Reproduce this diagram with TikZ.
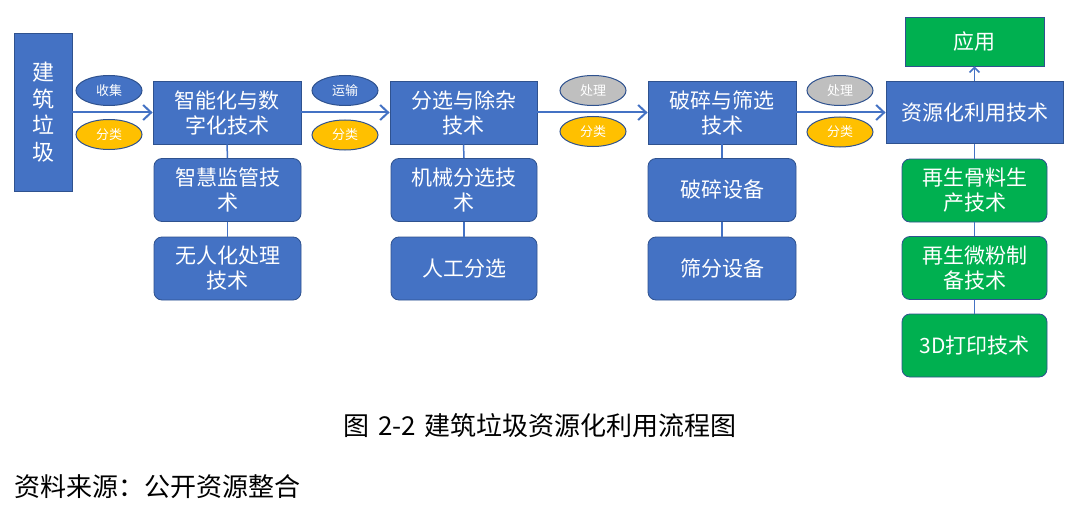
\documentclass[tikz,border=0pt]{standalone}
\usepackage{fontspec}
\setmainfont{Noto Sans CJK SC}
\usetikzlibrary{arrows.meta,shapes.geometric}
\definecolor{cblue}{HTML}{4472C4}
\definecolor{cborder}{HTML}{2F528F}
\definecolor{cgreen}{HTML}{00B050}
\definecolor{cyellow}{HTML}{FFC000}
\definecolor{cgrey}{HTML}{BFBFBF}
\begin{document}
\begin{tikzpicture}[x=1pt,y=-1pt,
  box/.style={draw=cborder,line width=0.8pt,fill=cblue,text=white,align=center,
    inner sep=0pt,font=\fontsize{21}{25}\selectfont},
  mainbox/.style={box,minimum width=148pt,minimum height=63pt},
  subbox/.style={box,rounded corners=8pt,minimum width=147pt,minimum height=63pt},
  greenbox/.style={subbox,fill=cgreen,minimum width=145pt},
  oval/.style={ellipse,draw=cborder,line width=1pt,text=white,inner sep=0pt,
    minimum width=66pt,minimum height=30pt,font=\fontsize{13}{15}\selectfont},
  blueoval/.style={oval,fill=cblue},
  yellowoval/.style={oval,fill=cyellow},
  greyoval/.style={oval,fill=cgrey},
  flow/.style={draw=cblue,line width=2pt,-{Straight Barb[length=8pt,width=15pt]}},
  link/.style={draw=cblue,line width=1.5pt},
  caption/.style={font=\fontsize{26}{30}\selectfont,inner sep=0pt}
]
\useasboundingbox[fill=white] (0,0) rectangle (1080,519);

\node[box,minimum width=58pt,minimum height=158pt,font=\fontsize{22}{26.5}\selectfont] (g) at (43,112) {建\\筑\\垃\\圾};

\node[mainbox] (b1) at (227,112.5) {智能化与数\\字化技术};
\node[subbox] (s11) at (227.5,190) {智慧监管技\\术};
\node[subbox] (s12) at (227.5,268.5) {无人化处理\\技术};

\node[mainbox,minimum width=147pt] (b2) at (463.5,112.5) {分选与除杂\\技术};
\node[subbox,minimum width=146pt] (s21) at (464,190) {机械分选技\\术};
\node[subbox,minimum width=146pt] (s22) at (464,268.5) {人工分选};

\node[mainbox] (b3) at (722,112.5) {破碎与筛选\\技术};
\node[subbox,minimum width=148pt] (s31) at (722,190) {破碎设备};
\node[subbox,minimum width=148pt] (s32) at (722,268.5) {筛分设备};

\node[mainbox,minimum width=177pt,minimum height=62pt] (b4) at (974.5,112.5) {资源化利用技术};
\node[box,fill=cgreen,minimum width=139pt,minimum height=49pt] (app) at (974.5,41.5) {应用};
\node[greenbox] (s41) at (974.5,190.5) {再生骨料生\\产技术};
\node[greenbox] (s42) at (974.5,268) {再生微粉制\\备技术};
\node[greenbox] (s43) at (974.5,345.5) {3D打印技术};

\node[blueoval] (e1a) at (109,90.5) {收集};
\node[yellowoval] (e1b) at (109,134.5) {分类};
\node[blueoval] (e2a) at (345,90.5) {运输};
\node[yellowoval] (e2b) at (345,135) {分类};
\node[greyoval] (e3a) at (593,90.5) {处理};
\node[yellowoval] (e3b) at (593,131.5) {分类};
\node[greyoval] (e4a) at (840,90.5) {处理};
\node[yellowoval] (e4b) at (840,132) {分类};

\draw[flow] (g.east |- b1.west) -- (b1.west);
\draw[flow] (b1.east) -- (b2.west);
\draw[flow] (b2.east) -- (b3.west);
\draw[flow] (b3.east) -- (b4.west);
\draw[draw=cblue,line width=1.5pt,-{Straight Barb[length=5pt,width=10pt]}] (b4.north) -- (app.south);

\draw[link] (b1.south) -- (s11.north);
\draw[link] (s11.south) -- (s12.north);
\draw[link] (b2.south) -- (s21.north);
\draw[link] (s21.south) -- (s22.north);
\draw[link] (b3.south) -- (s31.north);
\draw[link] (s31.south) -- (s32.north);
\draw[link] (b4.south) -- (s41.north);
\draw[link] (s41.south) -- (s42.north);
\draw[link] (s42.south) -- (s43.north);

\node[caption] (cap) at (540,426) {图\hspace{9pt}2-2\hspace{9pt}建筑垃圾资源化利用流程图};
\node[caption,anchor=west] (src) at (14,487) {资料来源：公开资源整合};
\end{tikzpicture}
\end{document}
